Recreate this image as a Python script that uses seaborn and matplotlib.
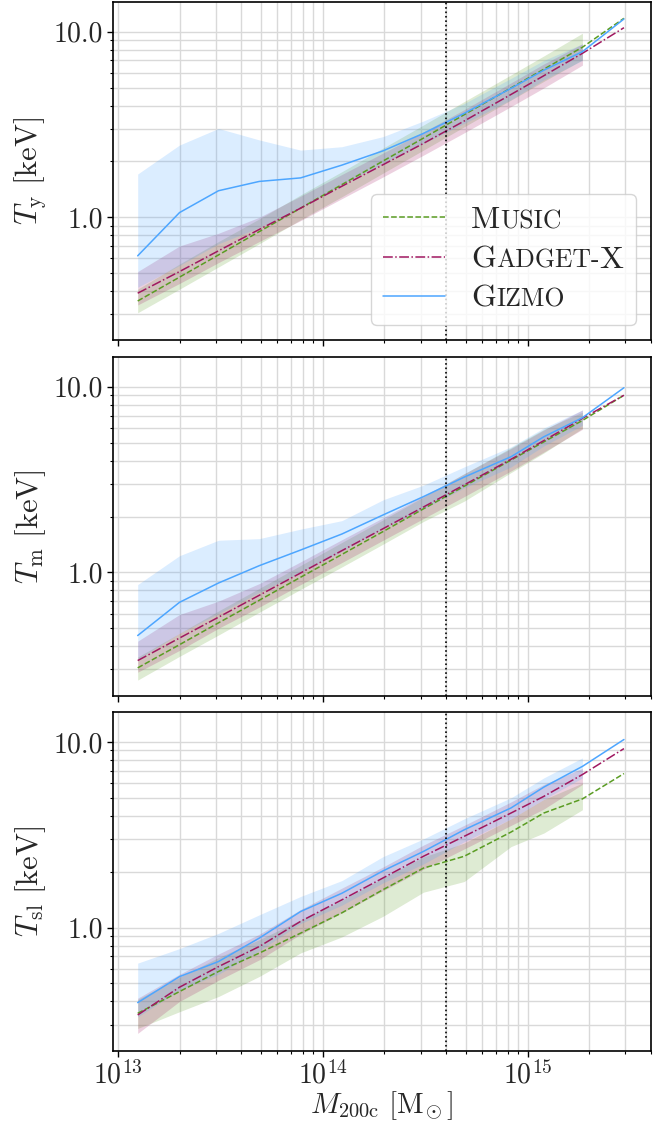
import matplotlib
matplotlib.use("Agg")
import matplotlib.pyplot as plt
import seaborn as sns
import numpy as np
from matplotlib.ticker import FormatStrFormatter, NullFormatter
from matplotlib.offsetbox import AnchoredOffsetbox, HPacker, VPacker, TextArea, DrawingArea
from matplotlib.lines import Line2D

# halo mass bins (last point has no scatter band)
mass = [1.25e13, 2.0e13, 3.1e13, 4.9e13, 7.8e13, 1.24e14, 1.97e14, 3.1e14,
        4.9e14, 8.3e14, 1.2e15, 1.85e15, 2.95e15]

# T_y
ty_music = [0.354, 0.476, 0.627, 0.837, 1.12, 1.50, 2.01, 2.67, 3.57, 4.98, 6.28, 8.24, 11.8]
ty_music_lo = [0.306, 0.41, 0.54, 0.72, 0.97, 1.29, 1.73, 2.30, 3.07, 4.28, 5.4, 7.05]
ty_music_hi = [0.41, 0.56, 0.74, 0.98, 1.32, 1.76, 2.36, 3.14, 4.2, 5.85, 7.4, 9.8]
ty_gadget = [0.39, 0.51, 0.66, 0.86, 1.12, 1.47, 1.92, 2.50, 3.30, 4.59, 5.79, 7.64, 10.5]
ty_gadget_lo = [0.337, 0.44, 0.57, 0.74, 0.96, 1.26, 1.65, 2.16, 2.85, 3.95, 4.98, 6.6]
ty_gadget_hi = [0.51, 0.70, 0.82, 1.00, 1.30, 1.70, 2.22, 2.88, 3.80, 5.3, 6.7, 8.6]
ty_gizmo = [0.62, 1.06, 1.39, 1.56, 1.63, 1.91, 2.28, 2.83, 3.63, 4.95, 6.2, 7.8, 11.7]
ty_gizmo_lo = [0.42, 0.55, 0.72, 0.88, 1.13, 1.50, 1.95, 2.5, 3.2, 4.3, 5.5, 7.0]
ty_gizmo_hi = [1.71, 2.45, 3.01, 2.61, 2.30, 2.40, 2.72, 3.3, 4.1, 5.6, 7.0, 8.6]

# T_m
tm_music = [0.306, 0.408, 0.535, 0.708, 0.942, 1.25, 1.66, 2.20, 2.91, 4.03, 5.05, 6.58, 9.0]
tm_music_lo = [0.263, 0.353, 0.46, 0.61, 0.81, 1.07, 1.42, 1.88, 2.42, 3.45, 4.4, 5.97]
tm_music_hi = [0.35, 0.47, 0.62, 0.82, 1.09, 1.45, 1.92, 2.55, 3.4, 4.7, 5.9, 7.3]
tm_gadget = [0.335, 0.443, 0.574, 0.753, 0.993, 1.31, 1.72, 2.25, 2.96, 4.07, 5.13, 6.76, 9.0]
tm_gadget_lo = [0.29, 0.38, 0.50, 0.65, 0.86, 1.13, 1.49, 1.95, 2.56, 3.52, 4.45, 5.9]
tm_gadget_hi = [0.426, 0.593, 0.70, 0.87, 1.14, 1.50, 1.97, 2.58, 3.4, 4.65, 5.85, 7.5]
tm_gizmo = [0.457, 0.69, 0.877, 1.087, 1.32, 1.61, 2.04, 2.56, 3.26, 4.2, 5.38, 6.81, 9.88]
tm_gizmo_lo = [0.34, 0.47, 0.60, 0.78, 1.0, 1.30, 1.72, 2.2, 2.85, 3.7, 4.8, 6.2]
tm_gizmo_hi = [0.86, 1.23, 1.49, 1.52, 1.71, 1.90, 2.46, 2.95, 3.7, 4.75, 6.0, 7.5]

# T_sl
tsl_music = [0.345, 0.452, 0.58, 0.728, 0.933, 1.20, 1.60, 2.09, 2.42, 3.27, 4.14, 4.93, 6.75]
tsl_music_lo = [0.286, 0.352, 0.425, 0.545, 0.73, 0.89, 1.15, 1.55, 1.77, 2.73, 3.23, 4.31]
tsl_music_hi = [0.41, 0.54, 0.69, 0.86, 1.10, 1.40, 1.85, 2.40, 2.85, 3.85, 4.9, 6.0]
tsl_gadget = [0.338, 0.477, 0.616, 0.79, 1.08, 1.41, 1.85, 2.42, 3.10, 4.14, 5.09, 6.67, 9.2]
tsl_gadget_lo = [0.269, 0.40, 0.52, 0.67, 0.92, 1.20, 1.58, 2.06, 2.65, 3.55, 4.35, 5.9]
tsl_gadget_hi = [0.416, 0.56, 0.72, 0.92, 1.25, 1.63, 2.12, 2.78, 3.55, 4.75, 5.9, 7.2]
tsl_gizmo = [0.394, 0.544, 0.656, 0.877, 1.22, 1.53, 2.02, 2.57, 3.36, 4.41, 5.71, 7.38, 10.3]
tsl_gizmo_lo = [0.33, 0.46, 0.56, 0.75, 1.05, 1.32, 1.74, 2.2, 2.9, 3.85, 4.9, 6.4]
tsl_gizmo_hi = [0.643, 0.77, 0.93, 1.17, 1.47, 1.79, 2.41, 3.0, 3.85, 5.0, 6.4, 8.2]

ylabels = [r"$T_\mathrm{y}\ [\mathrm{keV}]$", r"$T_\mathrm{m}\ [\mathrm{keV}]$", r"$T_\mathrm{sl}\ [\mathrm{keV}]$"]
m_cut = 4e14

c_music = '#5a9c23'
c_gadget = '#a01860'
c_gizmo = '#4da6ff'

sns.set_style("ticks")
plt.rcParams['font.family'] = 'serif'
plt.rcParams['font.serif'] = ['cmr10']
plt.rcParams['mathtext.fontset'] = 'cm'
plt.rcParams['axes.formatter.use_mathtext'] = True
plt.rcParams['axes.unicode_minus'] = False

panels = [
    [(ty_music, ty_music_lo, ty_music_hi), (ty_gadget, ty_gadget_lo, ty_gadget_hi), (ty_gizmo, ty_gizmo_lo, ty_gizmo_hi)],
    [(tm_music, tm_music_lo, tm_music_hi), (tm_gadget, tm_gadget_lo, tm_gadget_hi), (tm_gizmo, tm_gizmo_lo, tm_gizmo_hi)],
    [(tsl_music, tsl_music_lo, tsl_music_hi), (tsl_gadget, tsl_gadget_lo, tsl_gadget_hi), (tsl_gizmo, tsl_gizmo_lo, tsl_gizmo_hi)],
]
styles = [(c_music, '--'), (c_gadget, '-.'), (c_gizmo, '-')]

fig, axes = plt.subplots(3, 1, sharex=True, figsize=(6.68, 11.21), dpi=100)
fig.subplots_adjust(left=0.169, right=0.9746, top=0.998, bottom=0.0627, hspace=0.05)

nb = len(mass) - 1
for ax, data, lab in zip(axes, panels, ylabels):
    ax.set_xscale('log')
    ax.set_yscale('log')
    for (mean, lo, hi), (col, ls) in zip(data, styles):
        ax.fill_between(mass[:nb], lo, hi, color=col, alpha=0.2, lw=0)
        sns.lineplot(x=mass, y=mean, ax=ax, color=col, linestyle=ls, lw=1.1, legend=False)
    ax.axvline(m_cut, color='k', ls=':', lw=1.2)
    ax.set_xlim(9.46e12, 4.0e15)
    ax.set_ylim(0.217, 14.4)
    ax.grid(True, which='both', color='#d9d9d9', lw=1.0)
    ax.yaxis.set_major_formatter(FormatStrFormatter('%.1f'))
    ax.yaxis.set_minor_formatter(NullFormatter())
    ax.tick_params(which='major', length=4, width=1, labelsize=20, color='k', pad=3)
    ax.tick_params(which='minor', length=2.5, width=0.8, color='k')
    ax.set_ylabel(lab, fontsize=22)
    for s in ax.spines.values():
        s.set_color('k')
        s.set_linewidth(1.2)

axes[2].set_xlabel(r"$M_\mathrm{200c}\ [\mathrm{M}_{\!\odot}]$", fontsize=21, labelpad=0)

# legend with small-caps style names
names = [[("M", 23), ("USIC", 18.5)],
         [("G", 23), ("ADGET-", 18.5), ("X", 23)],
         [("G", 23), ("IZMO", 18.5)]]
rows = []
for parts, (col, ls) in zip(names, styles):
    da = DrawingArea(44.6, 16, 0, 0)
    da.add_artist(Line2D([0, 44.6], [8, 8], color=col, ls=ls, lw=1.1))
    txt = HPacker(children=[TextArea(t, textprops=dict(fontsize=fs, family='cmr10')) for t, fs in parts],
                  align='baseline', pad=0, sep=0)
    rows.append(HPacker(children=[da, txt], align='baseline', pad=0, sep=18.7))
vbox = VPacker(children=rows, align='left', pad=0, sep=8)
box = AnchoredOffsetbox(loc='lower right', child=vbox, pad=0.4, borderpad=0.5,
                        frameon=True, prop=dict(size=22))
box.patch.set_boxstyle("round,pad=0,rounding_size=0.2")
box.patch.set_edgecolor('0.8')
box.patch.set_facecolor('white')
box.patch.set_alpha(0.8)
axes[0].add_artist(box)

fig.savefig('out.png', dpi=100)
